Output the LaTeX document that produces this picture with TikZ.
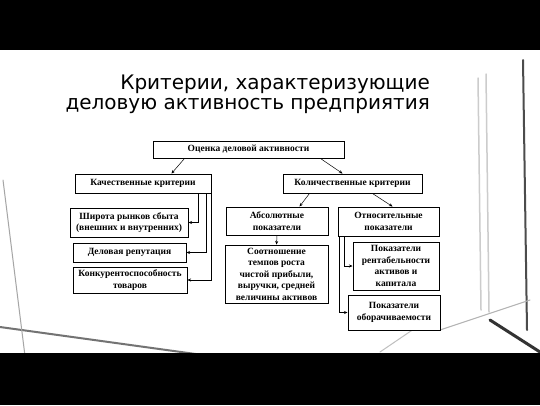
\documentclass[tikz,border=0pt]{standalone}
\usepackage{fontspec}
\setmainfont{Liberation Serif}
\newfontfamily\titlefont{DejaVu Sans}
\usetikzlibrary{arrows.meta}

\tikzset{
  blk/.style={draw, line width=1pt, fill=white, align=center, inner sep=1pt,
    font=\fontsize{9.5}{11.5}\selectfont\bfseries},
  arr/.style={-{Stealth[length=3.5pt,width=3pt]}, line width=0.5pt},
  frm/.style={line width=#1, line cap=round},
}

\begin{document}
\begin{tikzpicture}[x=1pt,y=1pt,yscale=-1]
	\useasboundingbox (0,0) rectangle (540,405);
	\fill[white] (0,0) rectangle (540,405);
	
	%Background window frames
	\draw[frm=2pt, black!55] (0,327) -- (210,356) ;
	\draw[frm=1pt, black!35] (3,180) -- (25,356) ;
	\draw[frm=1.5pt, black!20] (478,78) -- (481,310) ;
	\draw[frm=1.5pt, black!20] (486,74) -- (489,312) ;
	\draw[frm=2pt, black!70] (523,60) -- (527,330) ;
	\draw[frm=1pt, black!30] (440,330) -- (530,300) ;
	\draw[frm=3pt, black!80] (490,320) -- (540,352) ;
	\draw[frm=1pt, black!25] (380,352) -- (430,318) ;
	
	%Black bands
	\fill[black] (0,0) rectangle (540,50);
	\fill[black] (0,353) rectangle (540,405);
	
	% Title
	\node[anchor=north east, align=right, inner sep=0pt,
	  font=\titlefont\fontsize{20}{20}\selectfont] (title) at (430,75)
	  {Критерии, характеризующие\\деловую активность предприятия};
	
	% Boxes
	\node[blk, minimum width=191pt, minimum height=17pt] (ocenka) at (248.5,149.5) {Оценка деловой активности};
	\node[blk, minimum width=136pt, minimum height=19pt] (kach) at (143,183.5) {Качественные критерии};
	\node[blk, minimum width=139pt, minimum height=19pt] (kolich) at (352.5,183.5) {Количественные критерии};
	
	\node[blk, minimum width=118pt, minimum height=29pt] (shirota) at (129,222.5) {Широта рынков сбыта\\(внешних и внутренних)};
	\node[blk, minimum width=113pt, minimum height=19pt] (reput) at (129.5,252.5) {Деловая репутация};
	\node[blk, minimum width=114pt, minimum height=26pt] (konkur) at (130,280) {Конкурентоспособность\\товаров};
	
	\node[blk, minimum width=102pt, minimum height=28pt] (absol) at (277,221) {Абсолютные\\показатели};
	\node[blk, minimum width=101pt, minimum height=29pt] (otnos) at (388.5,221.5) {Относительные\\показатели};
	\node[blk, minimum width=103pt, minimum height=58pt] (sootn) at (276.5,274) {Соотношение\\темпов роста\\чистой прибыли,\\выручки, средней\\величины активов};
	\node[blk, minimum width=86pt, minimum height=48pt] (rentab) at (396,266) {Показатели\\рентабельности\\активов и\\капитала};
	\node[blk, minimum width=92pt, minimum height=35pt] (oborot) at (394,312.5) {Показатели\\оборачиваемости};
	
	% Connectors
	\draw[arr] ([xshift=32pt]ocenka.south west) -- ([xshift=97pt]kach.north west);
	\draw[arr] ([xshift=-24pt]ocenka.south east) -- ([xshift=60pt]kolich.north west);
	\draw[arr] ([xshift=27pt]kolich.south west) -- ([xshift=74pt]absol.north west);
	\draw[arr] ([xshift=90pt]kolich.south west) -- ([xshift=55pt]otnos.north west);
	
	\draw[arr] ([xshift=-13pt]kach.south east) |- (shirota.east);
	\draw[arr] ([xshift=-5pt]kach.south east) |- (reput.east);
	\draw[arr] ([xshift=-0.5pt]kach.south east) |- (konkur.east);
	
	\draw[arr] (absol.south) -- (sootn.north);
	
	\draw[arr] ([xshift=7pt]otnos.south west) |- (rentab.west);
	\draw[arr] ([xshift=2pt]otnos.south west) |- (oborot.west);
\end{tikzpicture}
\end{document}
